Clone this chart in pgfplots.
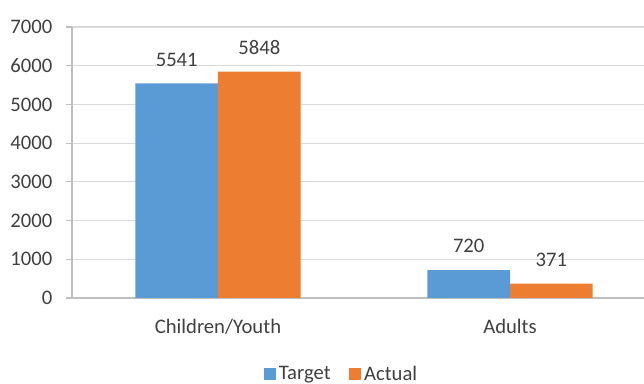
\documentclass[border=0pt]{standalone}
\usepackage{fontspec}
\setmainfont{Carlito}
\usepackage{pgfplots}
\pgfplotsset{compat=1.18}
\definecolor{barblue}{HTML}{5B9BD5}
\definecolor{barorange}{HTML}{ED7D31}
\definecolor{txt}{HTML}{404040}
\definecolor{gridgray}{HTML}{D9D9D9}
\definecolor{axisgray}{HTML}{BFBFBF}
\begin{document}
\begin{tikzpicture}
\begin{axis}[
  at={(0,0)}, anchor=south west,
  scale only axis,
  width=429pt, height=203.25pt,
  ybar=0pt, bar width=61.9pt,
  xmin=-0.5, xmax=1.4589,
  ymin=0, ymax=7000,
  ytick={0,1000,...,7000},
  xtick={0,1},
  xticklabels={Children/Youth, Adults},
  extra x ticks={-0.5,0.5},
  extra x tick labels={},
  extra x tick style={major tick length=4.5pt, tick align=outside,
    tick style={axisgray, line width=0.8pt}},
  xtick style={draw=none},
  ytick style={axisgray, line width=0.8pt},
  major tick length=4.5pt,
  tick align=outside,
  ytick pos=left,
  axis x line*=bottom, axis y line*=left,
  x axis line style={-, axisgray, line width=0.8pt},
  y axis line style={-, axisgray, line width=0.8pt},
  ymajorgrids, grid style={gridgray, line width=0.8pt},
  font=\fontsize{15.5}{18}\selectfont,
  tick label style={txt},
  /pgf/number format/assume math mode=true,
  /pgf/number format/set thousands separator={},
  yticklabel style={anchor=east, inner sep=0pt, xshift=-10pt},
  xticklabel style={anchor=base, inner sep=0pt, yshift=-22pt},
  nodes near coords,
  every node near coord/.append style={txt, anchor=base, inner sep=0pt, yshift=13pt},
  legend columns=2,
  legend style={draw=none, fill=none, txt, font=\fontsize{15.5}{18}\selectfont,
    at={(rel axis cs:0.472,0)}, anchor=center, yshift=-57pt,
    /tikz/every even column/.append style={column sep=12pt}},
  legend image code/.code={\fill[#1] (0pt,-4.5pt) rectangle (9pt,4.5pt);},
]
\addplot[fill=barblue, draw=none] coordinates {(0,5541) (1,720)};
\addplot[fill=barorange, draw=none] coordinates {(0,5848) (1,371)};
\legend{Target, Actual}
\end{axis}
\pgfresetboundingbox
\path[use as bounding box] (-54pt,-64.5pt) rectangle (429pt,223.5pt);
\end{tikzpicture}
\end{document}
